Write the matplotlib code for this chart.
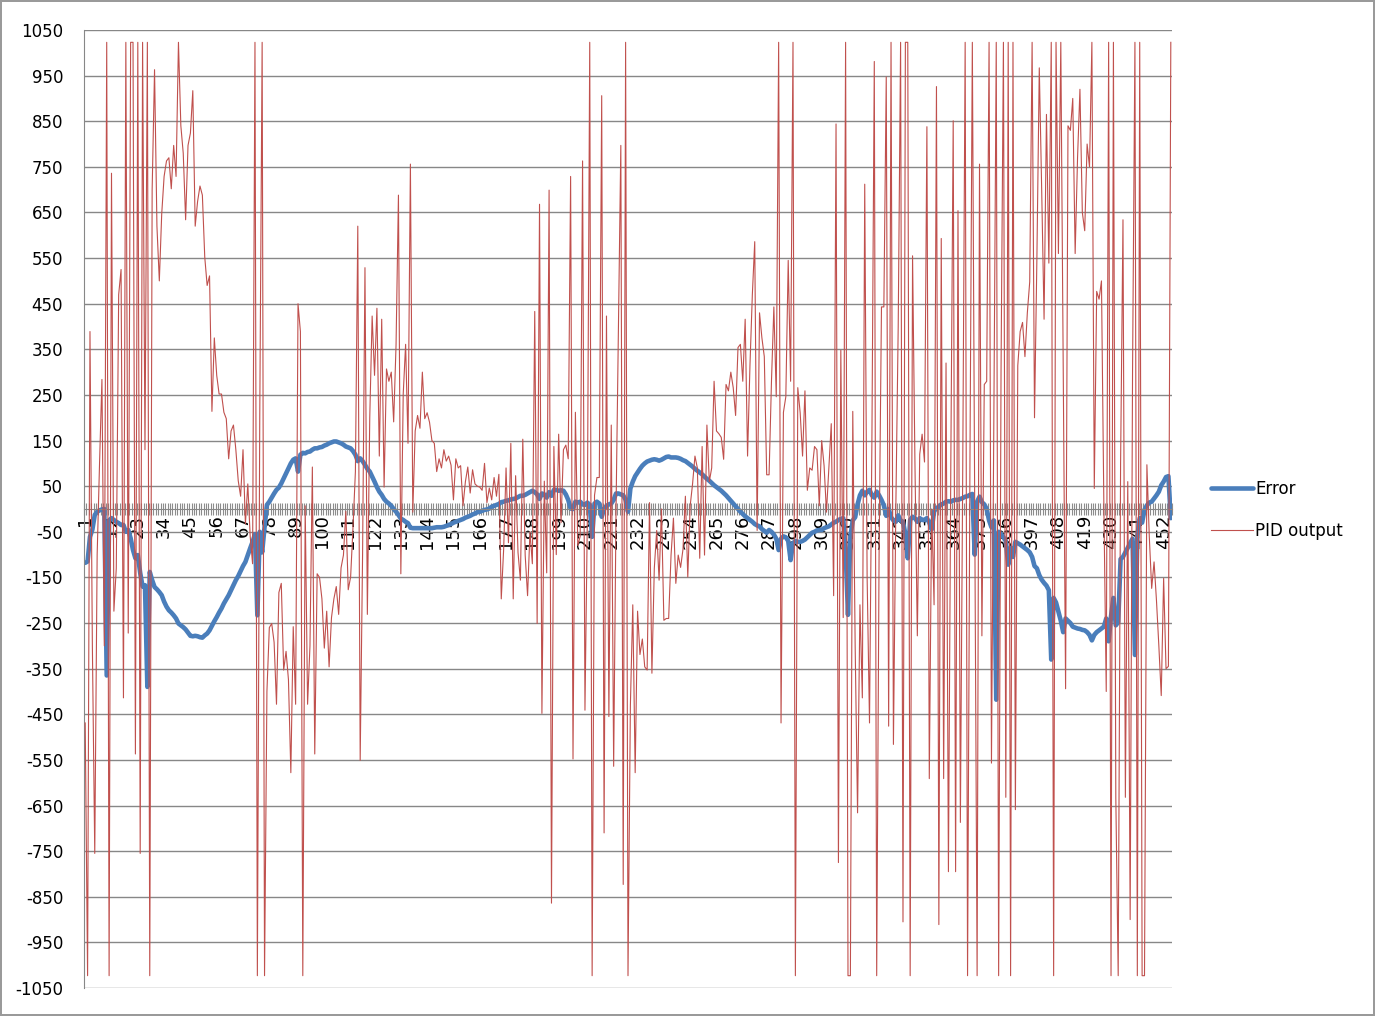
import numpy as np
import matplotlib
matplotlib.use("Agg")
import matplotlib.pyplot as plt

# error signal, one value per sample
error = [
    -118, -115, -61, -45, -13, -6, -3, -1, 0, -365,
    -25, -20, -24, -28, -31, -35, -35, -50, -46, -64,
    -90, -108, -101, -140, -170, -167, -390, -138, -156, -171,
    -176, -182, -189, -203, -214, -222, -227, -233, -240, -251,
    -255, -259, -264, -271, -278, -279, -278, -279, -281, -282,
    -277, -273, -266, -256, -246, -237, -227, -218, -207, -198,
    -189, -178, -167, -156, -147, -136, -125, -116, -101, -86,
    -72, -55, -233, -50, -95, -40, 9, 16, 25, 34,
    42, 47, 56, 67, 78, 89, 100, 108, 111, 82,
    119, 123, 122, 125, 126, 130, 133, 133, 135, 136,
    139, 141, 144, 146, 148, 148, 146, 144, 141, 137,
    135, 133, 127, 119, 105, 111, 105, 97, 88, 82,
    71, 60, 48, 38, 31, 22, 16, 12, 7, 0,
    -6, -13, -21, -24, -28, -31, -41, -42, -42, -42,
    -42, -42, -42, -42, -42, -42, -41, -40, -40, -40,
    -39, -37, -35, -33, -30, -28, -26, -24, -22, -19,
    -17, -15, -12, -10, -7, -6, -4, -2, -1, 1,
    5, 7, 9, 11, 15, 16, 18, 19, 21, 22,
    23, 26, 29, 29, 31, 34, 37, 40, 37, 32,
    22, 34, 32, 25, 37, 29, 42, 42, 40, 41,
    40, 32, 20, 1, 0, 16, 14, 16, 10, 9,
    14, 9, -61, 12, 16, 12, -17, 0, 7, 10,
    12, 20, 34, 34, 32, 30, 20, -6, 45, 60,
    72, 80, 88, 95, 100, 104, 106, 108, 109, 108,
    106, 108, 111, 114, 115, 113, 113, 113, 112, 110,
    107, 105, 101, 97, 93, 88, 84, 80, 76, 71,
    66, 62, 57, 52, 48, 44, 40, 35, 30, 24,
    18, 12, 6, 0, -6, -11, -16, -20, -24, -28,
    -33, -36, -38, -44, -48, -52, -46, -50, -56, -65,
    -90, -65, -60, -62, -70, -112, -75, -70, -72, -72,
    -70, -67, -62, -57, -52, -50, -47, -46, -46, -42,
    -40, -38, -34, -30, -28, -24, -22, -20, -90, -232,
    -60, -25, -18, 10, 30, 40, 30, 38, 42, 30,
    25, 38, 30, 20, 8, -15, 0, -18, -25, -28,
    -14, -25, -28, -55, -108, -24, -17, -20, -28, -20,
    -24, -24, -20, -30, -45, -5, 2, 5, 10, 12,
    16, 17, 16, 19, 20, 20, 22, 24, 27, 28,
    31, 33, -100, 16, 27, 15, 10, 0, -25, -40,
    -25, -418, -50, -55, -62, -70, -122, -85, -105, -72,
    -75, -78, -82, -86, -90, -95, -105, -125, -130, -145,
    -155, -162, -168, -178, -330, -195, -205, -225, -245, -270,
    -240, -245, -250, -258, -260, -262, -263, -265, -266, -270,
    -276, -288, -276, -270, -266, -262, -258, -240, -290, -235,
    -195, -255, -248, -110, -105, -95, -85, -75, -65, -320,
    -60, -20, -30, -2, 8, 14, 16, 23, 30, 38,
    52, 60, 70, 72, -20,
]

# controller output, clipped at +-1023
pid_output = [
    -469, -1023, 389, -300, -755, -100, 100, 284, -300, 1023,
    -1023, 736, -224, -130, 470, 525, -414, 1023, -272, 1023,
    1023, -537, 1023, -755, 1023, 130, 1023, -1023, 700, 963,
    620, 500, 647, 729, 763, 770, 702, 797, 729, 1023,
    840, 780, 634, 797, 824, 917, 620, 674, 708, 688,
    552, 490, 511, 214, 375, 293, 252, 252, 212, 198,
    110, 171, 184, 130, 62, 28, 130, -33, 55, -60,
    -120, 1023, -1023, 200, 1023, -1023, -400, -260, -251, -292,
    -428, -183, -163, -353, -312, -374, -578, -258, -428, 450,
    389, -1023, 7, -428, -300, 92, -537, -142, -150, -197,
    -305, -224, -346, -238, -197, -170, -231, -129, -101, -5,
    -177, -149, -40, 82, 620, -551, -100, 529, -231, 200,
    423, 293, 440, 116, 416, 48, 307, 280, 300, 191,
    360, 688, -142, 252, 361, 144, 756, -7, 171, 205,
    177, 300, 198, 211, 190, 150, 144, 82, 110, 90,
    130, 105, 116, 96, 20, 110, 90, 95, 7, 60,
    92, 35, 86, 55, 50, 48, 41, 100, 14, 46,
    20, 69, 28, 76, -197, -88, 90, -74, 144, -197,
    73, -95, -156, 153, -101, -190, -50, -120, 433, -251,
    668, -448, 61, -140, 699, -864, 137, -100, 164, -30,
    130, 140, 110, 729, -548, 212, -80, -60, 763, -441,
    -20, 1023, -1023, 30, 69, 69, 906, -710, 423, -455,
    184, -564, 0, 400, 797, -823, 1023, -1023, -430, -210,
    -578, -224, -319, -285, -346, -353, 14, -360, -130, -47,
    -156, 0, -244, -240, -240, -101, -20, -163, -101, -128,
    -88, 28, -149, 7, 55, 116, 90, -108, 137, -101,
    184, 60, 90, 280, 171, 165, 157, 109, 273, 259,
    300, 266, 205, 354, 361, 280, 416, 116, 314, 470,
    586, -47, 430, 375, 334, 75, 75, 280, 443, 246,
    1023, -469, 212, 246, 545, 280, 1023, -1023, 266, 211,
    116, 259, 41, 90, 85, 137, 130, 7, 150, 95,
    -7, 90, 187, -190, 844, -775, 348, -238, 1023, -1023,
    -1023, 214, -300, -666, -210, -414, 712, -150, -469, 150,
    981, -1023, -100, 443, 443, 947, -476, 1023, -516, 0,
    400, 1023, -905, 1023, 1023, -1023, 555, 100, -278, 120,
    164, 103, 838, -591, 0, -210, 926, -911, 593, -591,
    320, -795, 100, 851, -795, 654, -687, 100, 1023, -1023,
    100, 1023, 0, -1023, 756, -278, 273, 280, 1023, -557,
    200, 1023, -1023, 300, 1023, -632, 1023, -1023, 1023, -659,
    314, 389, 409, 334, 430, 498, 1023, 200, 550, 967,
    700, 416, 865, 539, 1023, -1023, 1023, 560, 1023, 300,
    -394, 840, 830, 900, 560, 770, 920, 650, 610, 800,
    750, 1023, 45, 477, 460, 500, 10, -400, 1023, -1023,
    1023, -632, -1023, 100, 634, -632, 60, -900, 300, 1023,
    -1023, 1023, -1023, -1023, 97, -60, -174, -116, -200, -300,
    -409, -152, -350, -345, 1023,
]

n_samples = max(len(error), len(pid_output))
label_every = 11
y_ticks = list(range(-1050, 1051, 100))

W, H = 1375, 1016
fig = plt.figure(figsize=(W / 100, H / 100), dpi=100)
fig.patch.set_edgecolor("#9a9a9a")
fig.patch.set_linewidth(1.5)
ax = fig.add_axes([84 / W, 1 - 988 / H, (1172 - 84) / W, (988 - 30) / H])

l1, = ax.plot(range(1, len(error) + 1), error, color="#4a7ebb", lw=3.3,
              solid_joinstyle="round", solid_capstyle="round", zorder=2)
l2, = ax.plot(range(1, len(pid_output) + 1), pid_output, color="#c0504d",
              lw=0.8, zorder=3)

ax.set_xlim(0.5, n_samples + 0.5)
ax.set_ylim(-1050, 1050)
ax.set_yticks(y_ticks)
ax.set_yticklabels([str(v) for v in y_ticks])
ax.yaxis.grid(True, color="#878787", lw=1.0)
ax.set_axisbelow(True)

for s in ["top", "right"]:
    ax.spines[s].set_visible(False)
ax.spines["left"].set_color("#878787")
ax.spines["bottom"].set_position(("data", 0))
ax.spines["bottom"].set_color("#878787")

cats = list(range(1, n_samples + 1, label_every))
ax.set_xticks(cats)
ax.set_xticklabels([str(c) for c in cats], rotation=90, fontsize=13)
ax.set_xticks(np.arange(0.5, n_samples + 1, 1), minor=True)
ax.tick_params(axis="x", which="major", length=0, pad=4)
ax.tick_params(axis="x", which="minor", direction="inout", length=8,
               width=0.8, color="#8c8c8c")
ax.tick_params(axis="y", length=0, pad=15, labelsize=12)

fig.legend([l1, l2], ["Error", "PID output"], loc="center left",
           bbox_to_anchor=(1196 / W, 1 - 510 / H), frameon=False,
           fontsize=12, handlelength=2.5, labelspacing=1.45,
           handletextpad=0.15)

fig.savefig("out.png", dpi=100, edgecolor=fig.get_edgecolor())
